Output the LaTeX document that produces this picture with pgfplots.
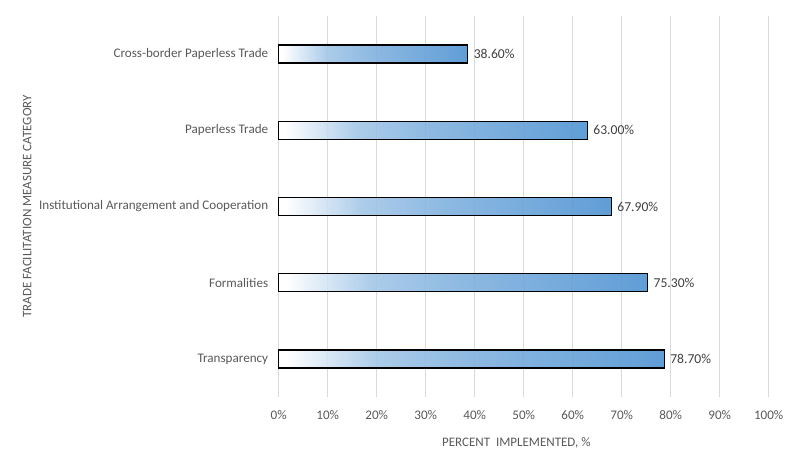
\documentclass[border=0pt]{standalone}
\usepackage{pgfplots}
\pgfplotsset{compat=1.18}
\usepackage{fontspec}
\setmainfont{Carlito}
\definecolor{txt}{HTML}{595959}
\definecolor{barblue}{HTML}{4F93D2}
\definecolor{gridgray}{HTML}{D9D9D9}
% TikZ maps 25bp..75bp of a named shading onto the path
\pgfdeclarehorizontalshading{bargrad}{100bp}{%
  color(0bp)=(white); color(25bp)=(white); color(26bp)=(white);
  color(37.5bp)=(barblue!52!white); color(50bp)=(barblue!72!white);
  color(75bp)=(barblue); color(100bp)=(barblue)}
\pgfplotsset{onebar/.style={draw=black, line width=1.3pt, shading=bargrad,
  fill opacity=0.9, draw opacity=1, bar shift=0pt}}

\begin{document}
\begin{tikzpicture}[x=1pt,y=1pt]
\path[use as bounding box] (0,0) rectangle (800,458);
\begin{axis}[
  at={(278.7pt,61pt)}, anchor=south west,
  scale only axis, width=490pt, height=381pt,
  xbar, bar width=18pt,
  xmin=0, xmax=100, ymin=-0.5, ymax=4.5,
  xtick={0,10,...,100},
  xticklabel={\pgfmathprintnumber{\tick}\%},
  ytick={0,...,4},
  yticklabels={Transparency, Formalities, Institutional Arrangement and Cooperation, Paperless Trade, Cross-border Paperless Trade},
  axis line style={draw=none},
  major tick length=0pt,
  xmajorgrids, grid style={gridgray, line width=1.2pt},
  tick label style={font=\fontsize{13.1}{15}\selectfont, text=txt},
  /pgf/number format/assume math mode=true,
  xticklabel shift=10pt,
  yticklabel shift=7pt,
  xlabel={PERCENT\ \ IMPLEMENTED, \%},
  ylabel={TRADE FACILITATION MEASURE CATEGORY},
  label style={font=\fontsize{13}{15}\selectfont, text=txt},
  xlabel style={at={(axis description cs:0.485,0)}, anchor=center, yshift=-46pt},
  ylabel style={at={(axis description cs:0,0.5)}, anchor=center, yshift=251.5pt},
  point meta=x,
  nodes near coords={\pgfmathprintnumber[fixed,fixed zerofill,precision=2]{\pgfplotspointmeta}\%},
  nodes near coords align=horizontal,
  every node near coord/.append style={font=\fontsize{13.6}{15}\selectfont, text=black!75, xshift=2pt, fill opacity=1, text opacity=1},
  clip=false,
]
\addplot[onebar] coordinates {(78.7,0)};
\addplot[onebar] coordinates {(75.3,1)};
\addplot[onebar] coordinates {(67.9,2)};
\addplot[onebar] coordinates {(63.0,3)};
\addplot[onebar] coordinates {(38.6,4)};
\end{axis}
\end{tikzpicture}
\end{document}
